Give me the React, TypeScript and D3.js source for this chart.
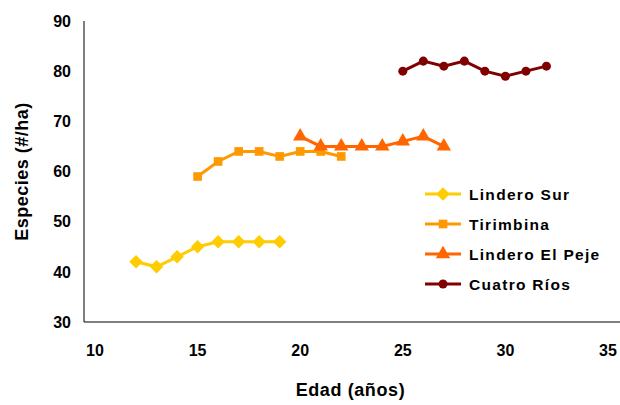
import React from "react";
import * as d3 from "d3";

const linderoSurX = [12, 13, 14, 15, 16, 17, 18, 19];
const linderoSurY = [42, 41, 43, 45, 46, 46, 46, 46];
const tirimbinaX = [15, 16, 17, 18, 19, 20, 21, 22];
const tirimbinaY = [59, 62, 64, 64, 63, 64, 64, 63];
const pejeX = [20, 21, 22, 23, 24, 25, 26, 27];
const pejeY = [67, 65, 65, 65, 65, 66, 67, 65];
const cuatroX = [25, 26, 27, 28, 29, 30, 31, 32];
const cuatroY = [80, 82, 81, 82, 80, 79, 80, 81];
const xTicks = [10, 15, 20, 25, 30, 35];
const yTicks = [30, 40, 50, 60, 70, 80, 90];
const seriesNames = ["Lindero Sur", "Tirimbina", "Lindero El Peje", "Cuatro Ríos"];

const colors = ["#FFCC00", "#FF9900", "#FF6600", "#800000"];
const shapes = [d3.symbolSquare, d3.symbolSquare, d3.symbolTriangle, d3.symbolCircle];
const sizes = [90, 75, 90, 64];
const rotations = [45, 0, 0, 0];

const font = "'Liberation Sans', Arial, sans-serif";

export default function App() {
  const W = 620, H = 405;
  const x = d3.scaleLinear().domain([10, 35]).range([95, 608]);
  const y = d3.scaleLinear().domain([30, 90]).range([322, 21]);
  const series = [
    { xs: linderoSurX, ys: linderoSurY },
    { xs: tirimbinaX, ys: tirimbinaY },
    { xs: pejeX, ys: pejeY },
    { xs: cuatroX, ys: cuatroY },
  ];
  const line = d3.line<[number, number]>().x(d => x(d[0])).y(d => y(d[1]));
  const x0 = x.invert(84);
  const x1 = x.invert(620);
  return (
    <svg width={W} height={H} style={{ position: "absolute", left: 0, top: 0, background: "#fff" }} fontFamily={font}>
      <rect width={W} height={H} fill="#fff" />
      <line x1={x(x0)} x2={x(x0)} y1={y(90)} y2={y(30)} stroke="#000" strokeWidth={1} />
      <line x1={x(x0)} x2={x(x1)} y1={y(30)} y2={y(30)} stroke="#000" strokeWidth={1} />
      {yTicks.map(t => (
        <text key={t} x={71} y={y(t)} dy="0.36em" textAnchor="end" fontSize={16} fontWeight="bold">{t}</text>
      ))}
      {xTicks.map(t => (
        <text key={t} x={x(t)} y={350} dy="0.36em" textAnchor="middle" fontSize={16} fontWeight="bold">{t}</text>
      ))}
      <text transform={`translate(22,${(y(30) + y(90)) / 2}) rotate(-90)`} textAnchor="middle" dy="0.36em" fontSize={18} fontWeight="bold" letterSpacing={0.5}>Especies (#/ha)</text>
      <text x={x(22.45)} y={390} textAnchor="middle" dy="0.36em" fontSize={18} fontWeight="bold" letterSpacing={0.6}>Edad (años)</text>
      {series.map((s, i) => {
        const pts = s.xs.map((v, j) => [v, s.ys[j]] as [number, number]);
        const sym = d3.symbol().type(shapes[i]).size(sizes[i])();
        return (
          <g key={i}>
            <path d={line(pts) || ""} fill="none" stroke={colors[i]} strokeWidth={3} />
            {pts.map((p, j) => (
              <path key={j} d={sym || ""} transform={`translate(${x(p[0])},${y(p[1])}) rotate(${rotations[i]})`} fill={colors[i]} />
            ))}
          </g>
        );
      })}
      {seriesNames.map((n, i) => {
        const ly = 194 + i * 30;
        const sym = d3.symbol().type(shapes[i]).size(sizes[i])();
        return (
          <g key={n}>
            <line x1={425} x2={461} y1={ly} y2={ly} stroke={colors[i]} strokeWidth={3} />
            <path d={sym || ""} transform={`translate(443,${ly}) rotate(${rotations[i]})`} fill={colors[i]} />
            <text x={469} y={ly} dy="0.36em" fontSize={15.5} fontWeight="bold" letterSpacing={1.3}>{n}</text>
          </g>
        );
      })}
    </svg>
  );
}
